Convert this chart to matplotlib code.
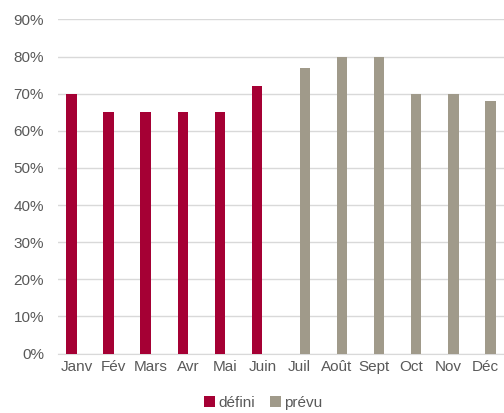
import matplotlib.pyplot as plt
import numpy as np

mois = ["Janv", "Fév", "Mars", "Avr", "Mai", "Juin",
        "Juil", "Août", "Sept", "Oct", "Nov", "Déc"]
defini = [70, 65, 65, 65, 65, 72, None, None, None, None, None, None]
prevu = [None, None, None, None, None, None, 77, 80, 80, 70, 70, 68]
yticks = [0, 10, 20, 30, 40, 50, 60, 70, 80, 90]

plt.rcParams['font.family'] = ['Liberation Sans', 'DejaVu Sans']
txt = "#595959"
grid = "#D9D9D9"

fig = plt.figure(figsize=(5.04, 4.13), dpi=100)
ax = fig.add_axes([0.115, 0.144, 0.885, 0.809])

x = np.arange(len(mois))
w = 0.28
d = np.array([np.nan if v is None else v for v in defini], dtype=float)
p = np.array([np.nan if v is None else v for v in prevu], dtype=float)
ax.bar(x - w / 2, d, width=w, color="#A50034", label="défini", zorder=3)
ax.bar(x + w / 2, p, width=w, color="#A09A8A", label="prévu", zorder=3)

ax.set_xlim(-0.5, len(mois) - 0.5)
ax.set_ylim(0, 90)
ax.set_yticks(yticks)
ax.set_yticklabels([f"{t}%" for t in yticks])
ax.set_xticks(x)
ax.set_xticklabels(mois)
ax.yaxis.grid(True, color=grid, linewidth=1, zorder=0)
for s in ["top", "right", "left"]:
    ax.spines[s].set_visible(False)
ax.spines["bottom"].set_color(grid)
ax.tick_params(axis="y", length=0, pad=10, labelsize=11, labelcolor=txt)
ax.tick_params(axis="x", length=0, pad=5, labelsize=11, labelcolor=txt)

fig.legend(loc="center", bbox_to_anchor=(263 / 504, 1 - 403 / 413), ncol=2,
           frameon=False, fontsize=11, labelcolor=txt, handlelength=0.7,
           handleheight=0.7, handletextpad=0.2, columnspacing=1.0)

fig.savefig("out.png", dpi=100)
